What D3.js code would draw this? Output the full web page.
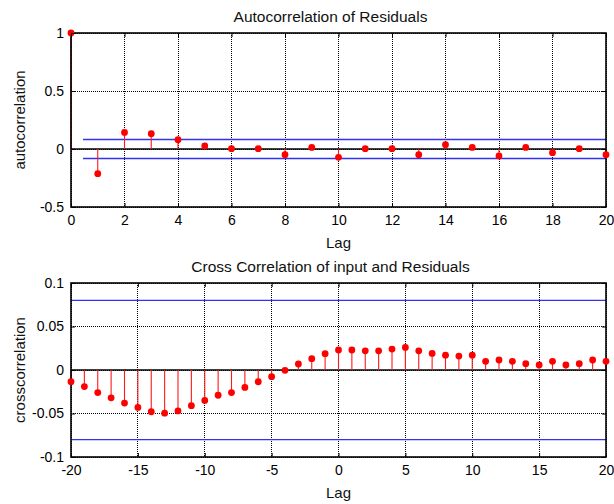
<!DOCTYPE html>
<html>
<head>
<meta charset="utf-8">
<script src="https://cdn.jsdelivr.net/npm/d3@7"></script>
<style>
  body { margin: 0; background: #fff; }
  svg { display: block; font-family: "Liberation Sans", Arial, sans-serif; }
</style>
</head>
<body>
<div id="chart"></div>
<script>
(function () {

    // autocorrelation of residuals, lags 0..20
    const acfLags = d3.range(0, 21);
    const acfValues = [1, -0.213, 0.143, 0.132, 0.080, 0.026, 0.003, 0.003, -0.049, 0.014,
      -0.072, 0.003, 0.003, -0.049, 0.037, 0.014, -0.060, 0.014, -0.032, 0.003, -0.049];
    const acfConf = 0.082;

    // cross correlation of input and residuals, lags -20..20
    const ccfLags = d3.range(-20, 21);
    const ccfValues = [-0.0135, -0.019, -0.026, -0.032, -0.038, -0.043, -0.048, -0.0496, -0.047, -0.041,
      -0.035, -0.029, -0.026, -0.020, -0.0135, -0.0077, -0.0004, 0.0069, 0.013, 0.0188,
      0.023, 0.023, 0.022, 0.022, 0.024, 0.026, 0.022, 0.019, 0.017, 0.016,
      0.017, 0.010, 0.0115, 0.010, 0.0073, 0.0058, 0.010, 0.0058, 0.0073, 0.0115, 0.010];
    const ccfConf = 0.08;

    const acfXTicks = d3.range(0, 21, 2);
    const acfYTicks = [-0.5, 0, 0.5, 1];
    const ccfXTicks = d3.range(-20, 21, 5);
    const ccfYTicks = [-0.1, -0.05, 0, 0.05, 0.1];

    const width = 614,
      height = 504;

    const svg = d3
      .select('#chart')
      .append('svg')
      .attr('width', width)
      .attr('height', height);

    // matlab style labels: plain hyphen, no trailing zeros
    const fmt = d => String(d);

    function drawPanel(p) {
      const x = d3.scaleLinear().domain(p.xDomain).range([71, 606]);
      const y = d3.scaleLinear().domain(p.yDomain).range([p.bottom, p.top]);
      const g = svg.append('g');

      // dotted grid
      g.selectAll('.vgrid')
        .data(p.xTicks)
        .enter()
        .append('line')
        .attr('x1', d => x(d)).attr('x2', d => x(d))
        .attr('y1', p.top).attr('y2', p.bottom)
        .attr('stroke', '#000')
        .attr('stroke-width', 1)
        .attr('shape-rendering', 'crispEdges')
        .attr('stroke-dasharray', '1,1');

      g.selectAll('.hgrid')
        .data(p.yTicks)
        .enter()
        .append('line')
        .attr('x1', 71).attr('x2', 606)
        .attr('y1', d => y(d)).attr('y2', d => y(d))
        .attr('stroke', '#000')
        .attr('stroke-width', 1)
        .attr('shape-rendering', 'crispEdges')
        .attr('stroke-dasharray', '1,1');

      // confidence bounds
      g.selectAll('.conf')
        .data([p.conf, -p.conf])
        .enter()
        .append('line')
        .attr('x1', x(p.confStart)).attr('x2', x(p.xDomain[1]))
        .attr('y1', d => y(d)).attr('y2', d => y(d))
        .attr('stroke', '#3333ee')
        .attr('stroke-width', 1.3);

      // baseline
      g.append('line')
        .attr('x1', 71).attr('x2', 606)
        .attr('y1', y(0)).attr('y2', y(0))
        .attr('stroke', '#000')
        .attr('stroke-width', 1.6);

      // stems
      g.selectAll('.stem')
        .data(p.values)
        .enter()
        .append('line')
        .attr('x1', (d, i) => x(p.lags[i])).attr('x2', (d, i) => x(p.lags[i]))
        .attr('y1', y(0)).attr('y2', d => y(d))
        .attr('stroke', '#ff1a1a')
        .attr('stroke-width', 1.1);

      // axis box
      g.append('rect')
        .attr('x', 71).attr('y', p.top)
        .attr('width', 606 - 71).attr('height', p.bottom - p.top)
        .attr('fill', 'none')
        .attr('stroke', '#000')
        .attr('stroke-width', 1.6);

      g.selectAll('.dot')
        .data(p.values)
        .enter()
        .append('circle')
        .attr('cx', (d, i) => x(p.lags[i]))
        .attr('cy', d => y(d))
        .attr('r', 3.4)
        .attr('fill', '#ff0000');

      // axes (ticks drawn inward on all four sides)
      const xAxis = d3.axisBottom(x).tickValues(p.xTicks).tickSize(-4).tickPadding(8).tickFormat(fmt);
      g.append('g')
        .attr('transform', `translate(0, ${p.bottom})`)
        .call(xAxis)
        .call(a => a.select('.domain').remove())
        .call(a => a.selectAll('text').attr('font-size', 14).attr('fill', '#000').attr('font-family', null))
        .call(a => a.selectAll('line').attr('stroke', '#000'));

      g.append('g')
        .attr('transform', `translate(0, ${p.top})`)
        .call(d3.axisTop(x).tickValues(p.xTicks).tickSize(-4).tickFormat(''))
        .call(a => a.select('.domain').remove())
        .call(a => a.selectAll('line').attr('stroke', '#000'));

      const yAxis = d3.axisLeft(y).tickValues(p.yTicks).tickSize(-4).tickPadding(7).tickFormat(fmt);
      g.append('g')
        .attr('transform', 'translate(71, 0)')
        .call(yAxis)
        .call(a => a.select('.domain').remove())
        .call(a => a.selectAll('text').attr('font-size', 14).attr('fill', '#000').attr('font-family', null))
        .call(a => a.selectAll('line').attr('stroke', '#000'));

      g.append('g')
        .attr('transform', 'translate(606, 0)')
        .call(d3.axisRight(y).tickValues(p.yTicks).tickSize(-4).tickFormat(''))
        .call(a => a.select('.domain').remove())
        .call(a => a.selectAll('line').attr('stroke', '#000'));

      svg.append('text')
        .attr('x', (71 + 606) / 2 - 8)
        .attr('y', p.top - 11)
        .attr('text-anchor', 'middle')
        .attr('font-size', 15.5)
        .attr('fill', '#111')
        .text(p.title);

      svg.append('text')
        .attr('x', (71 + 606) / 2)
        .attr('y', p.bottom + 41)
        .attr('text-anchor', 'middle')
        .attr('font-size', 15)
        .attr('fill', '#111')
        .text('Lag');

      svg.append('text')
        .attr('transform', `translate(25, ${(p.top + p.bottom) / 2}) rotate(-90)`)
        .attr('text-anchor', 'middle')
        .attr('font-size', 15)
        .attr('fill', '#111')
        .text(p.ylabel);
    }

    drawPanel({
      top: 33, bottom: 207,
      xDomain: [0, 20], yDomain: [-0.5, 1],
      xTicks: acfXTicks, yTicks: acfYTicks,
      lags: acfLags, values: acfValues,
      conf: acfConf, confStart: 0.45,
      title: 'Autocorrelation of Residuals',
      ylabel: 'autocorrelation'
    });

    drawPanel({
      top: 283, bottom: 457,
      xDomain: [-20, 20], yDomain: [-0.1, 0.1],
      xTicks: ccfXTicks, yTicks: ccfYTicks,
      lags: ccfLags, values: ccfValues,
      conf: ccfConf, confStart: -20,
      title: 'Cross Correlation of input and Residuals',
      ylabel: 'crosscorrelation'
    });

}) ();
</script>
</body>
</html>
